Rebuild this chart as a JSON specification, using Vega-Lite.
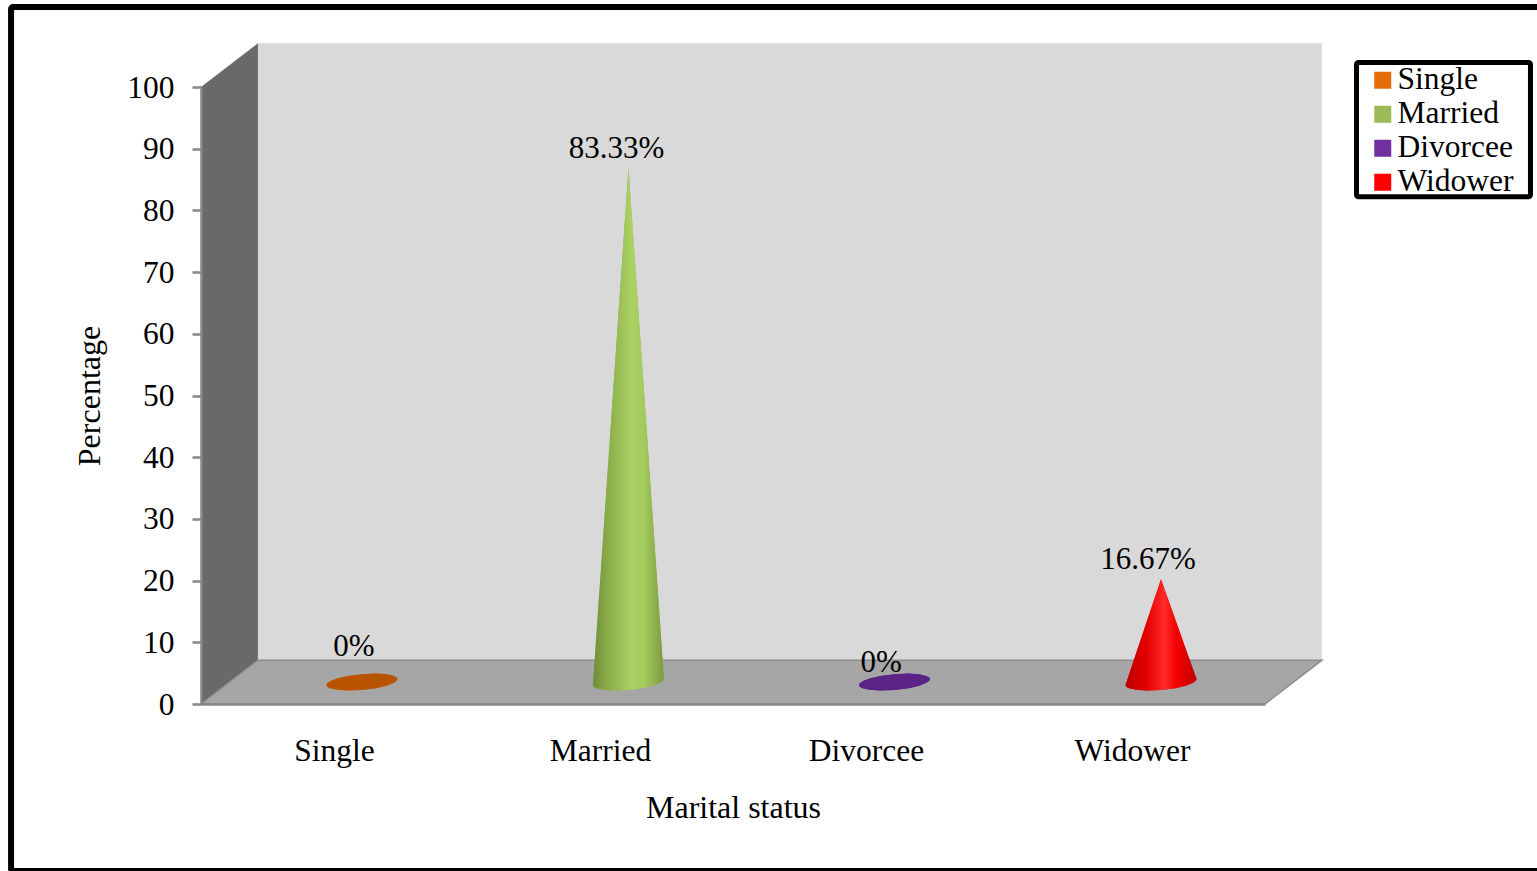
{
  "$schema": "https://vega.github.io/schema/vega-lite/v6.json",
  "autosize": {"type": "none"},
  "width": 1064,
  "height": 617,
  "padding": {"left": 201, "top": 87, "right": 272, "bottom": 167},
  "background": "white",
  "config": {
    "font": "Liberation Serif",
    "view": {"stroke": null},
    "legend": {
      "orient": "none",
      "legendX": 1166,
      "legendY": -22.5,
      "padding": 0,
      "symbolType": "square",
      "symbolSize": 289,
      "symbolStrokeWidth": 0,
      "labelFontSize": 31.5,
      "labelColor": "#000000",
      "labelOffset": -1,
      "rowPadding": 1,
      "labelLimit": 200
    }
  },
  "datasets": {
    "shell": [
      {"part": "side", "slot": 0, "top": 100, "base": 0},
      {"part": "side", "slot": 0.214, "top": 107.1, "base": 7.1},
      {"part": "back", "slot": 0.214, "top": 107.1, "base": 7.1},
      {"part": "back", "slot": 4.214, "top": 107.1, "base": 7.1},
      {"part": "floor", "slot": 0, "top": 0, "base": 0},
      {"part": "floor", "slot": 0.214, "top": 7.1, "base": 0},
      {"part": "floor", "slot": 4, "top": 7.1, "base": 0},
      {"part": "floor", "slot": 4.214, "top": 7.1, "base": 7.1}
    ],
    "boxes": [
      {"box": "frame", "slot": -0.714, "slotEnd": 5.06, "top": 112.97, "base": -27.07},
      {"box": "legend", "slot": 4.344, "slotEnd": 4.998, "top": 103.97, "base": 82.2}
    ],
    "cones": [
      {"status": "Single", "slot": 0.4715, "top": -0.49, "base": -0.49},
      {"status": "Single", "slot": 0.4742, "top": -0.22, "base": -0.74},
      {"status": "Single", "slot": 0.4849, "top": 0.12, "base": -1.0},
      {"status": "Single", "slot": 0.5116, "top": 0.58, "base": -1.26},
      {"status": "Single", "slot": 0.5516, "top": 0.99, "base": -1.38},
      {"status": "Single", "slot": 0.605, "top": 1.29, "base": -1.29},
      {"status": "Single", "slot": 0.6584, "top": 1.38, "base": -0.99},
      {"status": "Single", "slot": 0.6984, "top": 1.26, "base": -0.58},
      {"status": "Single", "slot": 0.7251, "top": 1.0, "base": -0.12},
      {"status": "Single", "slot": 0.7358, "top": 0.74, "base": 0.22},
      {"status": "Single", "slot": 0.7385, "top": 0.49, "base": 0.49},

      {"status": "Married", "slot": 1.4735, "top": -0.49, "base": -0.49},
      {"status": "Married", "slot": 1.4762, "top": 1.19, "base": -0.74},
      {"status": "Married", "slot": 1.4869, "top": 7.89, "base": -1.0},
      {"status": "Married", "slot": 1.5136, "top": 24.66, "base": -1.26},
      {"status": "Married", "slot": 1.5536, "top": 49.8, "base": -1.38},
      {"status": "Married", "slot": 1.607, "top": 83.33, "base": -1.29},
      {"status": "Married", "slot": 1.6604, "top": 50.19, "base": -0.99},
      {"status": "Married", "slot": 1.7004, "top": 25.34, "base": -0.58},
      {"status": "Married", "slot": 1.7271, "top": 8.77, "base": -0.12},
      {"status": "Married", "slot": 1.7378, "top": 2.15, "base": 0.22},
      {"status": "Married", "slot": 1.7405, "top": 0.49, "base": 0.49},

      {"status": "Divorcee", "slot": 2.4735, "top": -0.49, "base": -0.49},
      {"status": "Divorcee", "slot": 2.4762, "top": -0.22, "base": -0.74},
      {"status": "Divorcee", "slot": 2.4869, "top": 0.12, "base": -1.0},
      {"status": "Divorcee", "slot": 2.5136, "top": 0.58, "base": -1.26},
      {"status": "Divorcee", "slot": 2.5536, "top": 0.99, "base": -1.38},
      {"status": "Divorcee", "slot": 2.607, "top": 1.29, "base": -1.29},
      {"status": "Divorcee", "slot": 2.6604, "top": 1.38, "base": -0.99},
      {"status": "Divorcee", "slot": 2.7004, "top": 1.26, "base": -0.58},
      {"status": "Divorcee", "slot": 2.7271, "top": 1.0, "base": -0.12},
      {"status": "Divorcee", "slot": 2.7378, "top": 0.74, "base": 0.22},
      {"status": "Divorcee", "slot": 2.7405, "top": 0.49, "base": 0.49},

      {"status": "Widower", "slot": 3.4755, "top": -0.49, "base": -0.49},
      {"status": "Widower", "slot": 3.4782, "top": -0.15, "base": -0.74},
      {"status": "Widower", "slot": 3.4889, "top": 1.23, "base": -1.0},
      {"status": "Widower", "slot": 3.5156, "top": 4.66, "base": -1.26},
      {"status": "Widower", "slot": 3.5556, "top": 9.81, "base": -1.38},
      {"status": "Widower", "slot": 3.609, "top": 16.67, "base": -1.29},
      {"status": "Widower", "slot": 3.6624, "top": 10.2, "base": -0.99},
      {"status": "Widower", "slot": 3.7024, "top": 5.34, "base": -0.58},
      {"status": "Widower", "slot": 3.7291, "top": 2.11, "base": -0.12},
      {"status": "Widower", "slot": 3.7398, "top": 0.81, "base": 0.22},
      {"status": "Widower", "slot": 3.7425, "top": 0.49, "base": 0.49}
    ],
    "labels": [
      {"status": "Single", "slot": 0.575, "value": 0, "text": "0%"},
      {"status": "Married", "slot": 1.562, "value": 83.33, "text": "83.33%"},
      {"status": "Divorcee", "slot": 2.557, "value": 0, "text": "0%"},
      {"status": "Widower", "slot": 3.56, "value": 16.67, "text": "16.67%"}
    ]
  },
  "encoding": {
    "x": {
      "field": "slot",
      "type": "quantitative",
      "scale": {"domain": [0, 4], "nice": false, "zero": false},
      "axis": {
        "title": "Marital status",
        "titleFontSize": 32,
        "titleFontWeight": "normal",
        "titleColor": "#000000",
        "titlePadding": 26,
        "values": [0.5, 1.5, 2.5, 3.5],
        "labelExpr": "['Single', 'Married', 'Divorcee', 'Widower'][floor(datum.value)]",
        "labelFontSize": 31.5,
        "labelColor": "#000000",
        "labelPadding": 31,
        "ticks": false,
        "grid": false,
        "domainColor": "#868686",
        "domainWidth": 2.5,
        "zindex": 1
      }
    }
  },
  "layer": [
    {
      "encoding": {
        "y": {
          "field": "top",
          "type": "quantitative",
          "scale": {"domain": [0, 100], "nice": false, "zero": false},
          "axis": {
            "title": "Percentage",
            "titleFontSize": 32,
            "titleFontWeight": "normal",
            "titleColor": "#000000",
            "titlePadding": 20,
            "values": [0, 10, 20, 30, 40, 50, 60, 70, 80, 90, 100],
            "labelFontSize": 31.5,
            "labelColor": "#000000",
            "labelPadding": 18,
            "labelOffset": 1,
            "tickSize": 9,
            "tickWidth": 2.5,
            "tickColor": "#868686",
            "grid": false,
            "domainColor": "#868686",
            "domainWidth": 2.5,
            "zindex": 1
          }
        },
        "y2": {"field": "base"}
      },
      "layer": [
        {
          "data": {"name": "boxes"},
          "transform": [{"filter": "datum.box === 'frame'"}],
          "mark": {"type": "rect", "fill": null, "stroke": "#000000", "strokeWidth": 6, "cornerRadius": 2},
          "encoding": {"x2": {"field": "slotEnd"}}
        },
        {
          "data": {"name": "shell"},
          "transform": [{"filter": "datum.part === 'back'"}],
          "mark": {"type": "area", "orient": "vertical", "fill": "#d9d9d9"}
        },
        {
          "data": {"name": "shell"},
          "transform": [{"filter": "datum.part === 'side'"}],
          "mark": {"type": "area", "orient": "vertical", "fill": "#696969"}
        },
        {
          "data": {"name": "shell"},
          "transform": [{"filter": "datum.part === 'floor'"}],
          "mark": {"type": "area", "orient": "vertical", "fill": "#a6a6a6", "stroke": "#8c8c8c", "strokeWidth": 1.5}
        },
        {
          "data": {"name": "boxes"},
          "transform": [{"filter": "datum.box === 'legend'"}],
          "mark": {"type": "rect", "fill": null, "stroke": "#000000", "strokeWidth": 5, "cornerRadius": 2},
          "encoding": {"x2": {"field": "slotEnd"}}
        }
      ]
    },
    {
      "encoding": {
        "y": {
          "field": "top",
          "type": "quantitative",
          "scale": {"domain": [-3.55, 96.45], "nice": false, "zero": false},
          "axis": null
        },
        "y2": {"field": "base"}
      },
      "layer": [
        {
          "data": {"name": "cones"},
          "mark": {"type": "area", "orient": "vertical"},
          "encoding": {
            "color": {
              "field": "status",
              "type": "nominal",
              "scale": {
                "domain": ["Single", "Married", "Divorcee", "Widower"],
                "range": ["#e36c09", "#9bbb59", "#7030a0", "#ff0000"]
              },
              "legend": {"title": null}
            }
          }
        },
        {
          "data": {"name": "cones"},
          "transform": [{"filter": "datum.status === 'Single'"}],
          "mark": {"type": "area", "orient": "vertical", "fill": "#b85400"}
        },
        {
          "data": {"name": "cones"},
          "transform": [{"filter": "datum.status === 'Divorcee'"}],
          "mark": {"type": "area", "orient": "vertical", "fill": "#5b2385"}
        },
        {
          "data": {"name": "cones"},
          "transform": [{"filter": "datum.status === 'Married'"}],
          "mark": {
            "type": "area",
            "orient": "vertical",
            "fill": {
              "gradient": "linear",
              "x1": 0, "y1": 0, "x2": 1, "y2": 0,
              "stops": [
                {"offset": 0, "color": "#6d8b3a"},
                {"offset": 0.2, "color": "#8aab49"},
                {"offset": 0.55, "color": "#acd264"},
                {"offset": 0.72, "color": "#a4ca5c"},
                {"offset": 1, "color": "#7c9a42"}
              ]
            }
          }
        },
        {
          "data": {"name": "cones"},
          "transform": [{"filter": "datum.status === 'Widower'"}],
          "mark": {
            "type": "area",
            "orient": "vertical",
            "fill": {
              "gradient": "linear",
              "x1": 0, "y1": 0, "x2": 1, "y2": 0,
              "stops": [
                {"offset": 0, "color": "#b80000"},
                {"offset": 0.3, "color": "#e60000"},
                {"offset": 0.55, "color": "#ff2a2a"},
                {"offset": 0.72, "color": "#f40000"},
                {"offset": 1, "color": "#c00000"}
              ]
            }
          }
        },
        {
          "data": {"name": "labels"},
          "transform": [{"filter": "datum.status !== 'Single'"}],
          "mark": {"type": "text", "fontSize": 31, "color": "#000000", "dy": -19},
          "encoding": {
            "y": {"field": "value", "type": "quantitative", "scale": {"domain": [-3.55, 96.45], "nice": false, "zero": false}, "axis": null},
            "y2": null,
            "text": {"field": "text", "type": "nominal"}
          }
        },
        {
          "data": {"name": "labels"},
          "transform": [{"filter": "datum.status === 'Single'"}],
          "mark": {"type": "text", "fontSize": 31, "color": "#000000", "dy": -35},
          "encoding": {
            "y": {"field": "value", "type": "quantitative", "scale": {"domain": [-3.55, 96.45], "nice": false, "zero": false}, "axis": null},
            "y2": null,
            "text": {"field": "text", "type": "nominal"}
          }
        }
      ]
    }
  ],
  "resolve": {"scale": {"y": "independent"}, "axis": {"y": "independent"}}
}
